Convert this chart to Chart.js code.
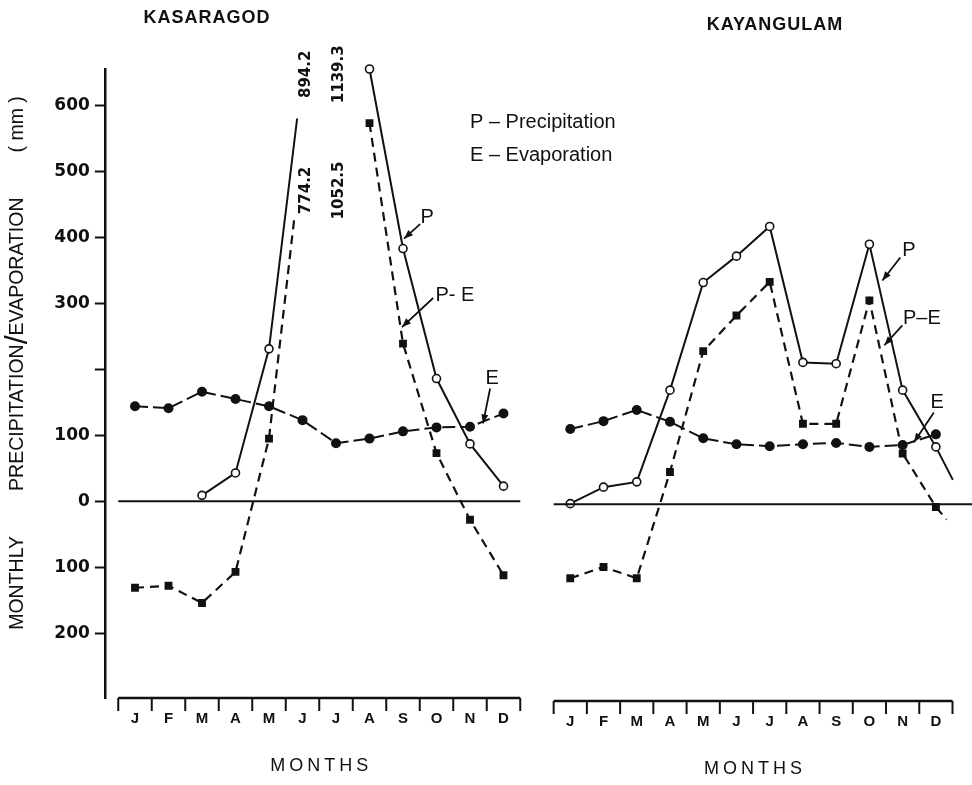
<!DOCTYPE html>
<html>
<head>
<meta charset="utf-8">
<script src="https://cdn.jsdelivr.net/npm/chart.js@4.4.1/dist/chart.umd.min.js"></script>
<style>
  html, body { margin: 0; padding: 0; background: #fff; overflow: hidden; }
  #wrap { position: relative; width: 972px; height: 785px; }
  canvas { position: absolute; }
  #left { left: 0; top: 0; }
  #right { left: 520px; top: 3px; }
</style>
</head>
<body>
<div id="wrap">
  <canvas id="left" width="972" height="785"></canvas>
  <canvas id="right" width="452" height="785"></canvas>
</div>
<script>
const months = ['J', 'F', 'M', 'A', 'M', 'J', 'J', 'A', 'S', 'O', 'N', 'D'];
const yTicks = [600, 500, 400, 300, 200, 100, 0, -100, -200];

// Kasaragod, mm (June/July P and P-E are off the scale)
const kasP  = [null, null, 9, 43, 231, 894.2, 1139.3, 655, 383, 186, 87, 23];
const kasE  = [144, 141, 166, 155, 144, 123, 88, 95, 106, 112, 113, 133];
const kasPE = [-131, -128, -154, -107, 95, 774.2, 1052.5, 573, 239, 73, -28, -112];
// where the drawn lines stop on their way up to June [month, mm]
const kasPCut  = [4.84, 580];
const kasPECut = [4.76, 431];

// Kayangulam, mm
const kayP  = [1, 26, 34, 173, 336, 376, 421, 215, 213, 394, 173, 87];
const kayE  = [114, 126, 143, 125, 100, 91, 88, 91, 93, 87, 90, 106];
const kayPE = [-112, -95, -112, 49, 232, 286, 337, 122, 122, 309, 77, -4];
// the lines run on a little past December [month, mm]
const kayPTail  = [11.51, 37];
const kayPETail = [11.32, -23];

const Y_MIN = -298, Y_MAX = 655;
const ink = '#111';

// off-scale values become gaps, extra end points are added unmarked
function points(vals, extra) {
    const pts = vals.map((v, i) => ({ x: i, y: v !== null && v > Y_MAX ? null : v }));
    if (extra) pts.push({ x: extra[0], y: extra[1], cut: true });
    return pts.sort((a, b) => a.x - b.x);
}

function datasets(p, e, pe) {
    const r = n => c => (c.raw && c.raw.cut ? 0 : n);
    return [
        { label: 'P', data: p, borderColor: ink, borderWidth: 2,
          pointRadius: r(4), pointBackgroundColor: '#fff', pointBorderColor: ink, pointBorderWidth: 1.6 },
        { label: 'E', data: e, borderColor: ink, borderWidth: 2, borderDash: [13, 5],
          pointRadius: r(4), pointBackgroundColor: ink, pointBorderColor: ink },
        { label: 'P-E', data: pe, borderColor: ink, borderWidth: 2.2, borderDash: [9, 6],
          pointStyle: 'rect', pointRadius: r(4), pointBackgroundColor: ink, pointBorderColor: ink }
    ];
}

function line(ctx, x1, y1, x2, y2) {
    ctx.beginPath(); ctx.moveTo(x1, y1); ctx.lineTo(x2, y2); ctx.stroke();
}

function arrow(ctx, x1, y1, x2, y2) {
    ctx.lineWidth = 1.8;
    line(ctx, x1, y1, x2, y2);
    const a = Math.atan2(y2 - y1, x2 - x1);
    ctx.beginPath();
    ctx.moveTo(x2, y2);
    ctx.lineTo(x2 - 9 * Math.cos(a) + 3.5 * Math.sin(a), y2 - 9 * Math.sin(a) - 3.5 * Math.cos(a));
    ctx.lineTo(x2 - 9 * Math.cos(a) - 3.5 * Math.sin(a), y2 - 9 * Math.sin(a) + 3.5 * Math.cos(a));
    ctx.closePath(); ctx.fill();
}

const decor = {
    id: 'decor',
    afterDraw(chart, args, o) {
        const { ctx, chartArea: a, scales: { x, y } } = chart;
        const px = m => x.getPixelForValue(m), py = v => y.getPixelForValue(v);
        ctx.save();
        ctx.strokeStyle = ink; ctx.fillStyle = ink;
        ctx.textAlign = 'center'; ctx.textBaseline = 'middle';

        // zero line
        ctx.lineWidth = 2;
        line(ctx, px(-0.5), py(0), o.zeroToEdge ? chart.width : px(11.5), py(0));

        // month strip
        const sx0 = px(-0.5), sx1 = px(11.5), sy = a.bottom;
        ctx.lineWidth = 2.5; line(ctx, sx0, sy, sx1, sy);
        ctx.lineWidth = 2;
        for (let k = 0; k <= 12; k++) line(ctx, px(k - 0.5), sy, px(k - 0.5), sy + 13);
        ctx.font = 'bold 15px "Liberation Sans"';
        months.forEach((m, i) => ctx.fillText(m, px(i), sy + 21));
        ctx.font = '18px "Liberation Sans"';
        ctx.letterSpacing = '4px';
        ctx.fillText('MONTHS', (sx0 + sx1) / 2 + 2, sy + 68);
        ctx.letterSpacing = '1px';

        // station name
        ctx.font = 'bold 18px "Liberation Sans"';
        ctx.fillText(o.title[0], o.title[1], o.title[2]);
        ctx.letterSpacing = '0px';

        // legend
        if (o.legend) {
            ctx.font = '20px "Liberation Sans"';
            ctx.textAlign = 'left';
            ctx.fillText('P \u2013 Precipitation', 470, 122);
            ctx.fillText('E \u2013 Evaporation', 470, 155);
            ctx.textAlign = 'center';
        }

        // off-scale values written upright
        ctx.font = 'bold 15px "DejaVu Sans"';
        (o.offScale || []).forEach(s => {
            s.vals.forEach((v, i) => {
                if (v === null || v <= Y_MAX) return;
                ctx.save();
                ctx.translate(px(i + 0.1), py(s.level));
                ctx.rotate(-Math.PI / 2);
                ctx.fillText(v.toFixed(1), 0, 0);
                ctx.restore();
            });
        });

        // curve names with arrows
        ctx.font = '20px "Liberation Sans"';
        (o.notes || []).forEach(n => {
            ctx.fillText(n.text, px(n.at[0]), py(n.at[1]));
            arrow(ctx, px(n.from[0]), py(n.from[1]), px(n.to[0]), py(n.to[1]));
        });

        // y axis title
        if (o.yTitle) {
            const parts = [['MONTHLY', 19.5], [45], ['PRECIPITATION', 19.5], ['/', 32], ['EVAPORATION', 19.5], [45], ['( mm )', 19.5]];
            ctx.save();
            ctx.translate(18, 363);
            ctx.rotate(-Math.PI / 2);
            ctx.textAlign = 'left';
            const w = parts.map(p => {
                if (p.length === 1) return p[0];
                ctx.font = p[1] + 'px "Liberation Sans"';
                return ctx.measureText(p[0]).width;
            });
            let cx = -w.reduce((s, v) => s + v, 0) / 2;
            parts.forEach((p, i) => {
                if (p.length > 1) {
                    ctx.font = p[1] + 'px "Liberation Sans"';
                    ctx.fillText(p[0], cx, 0);
                }
                cx += w[i];
            });
            ctx.restore();
        }
        ctx.restore();
    }
};

function makeChart(id, sets, yShown, padding, decorOpts) {
    const yScale = {
        min: Y_MIN, max: Y_MAX, display: yShown,
        afterBuildTicks: s => { s.ticks = yTicks.map(v => ({ value: v })); },
        ticks: {
            color: ink, padding: 5,
            font: { family: 'DejaVu Sans', weight: 'bold', size: 17 },
            callback: v => (v === 200 ? '' : Math.abs(v))
        },
        grid: { drawOnChartArea: false, drawTicks: true, tickLength: 10, tickColor: ink, tickWidth: 2 },
        border: { display: true, color: ink, width: 2.5 }
    };
    if (yShown) yScale.afterFit = s => { s.width = 104.85; };

    return new Chart(document.getElementById(id), {
        type: 'line',
        data: { datasets: sets },
        plugins: [decor],
        options: {
            responsive: false,
            animation: false,
            layout: { padding },
            datasets: { line: { tension: 0, spanGaps: false, clip: false } },
            plugins: { legend: { display: false }, tooltip: { enabled: false }, decor: decorOpts },
            scales: {
                x: { type: 'linear', min: -0.9, max: 11.9, display: false },
                y: yScale
            }
        }
    });
}

makeChart('left',
    datasets(points(kasP, kasPCut), points(kasE), points(kasPE, kasPECut)),
    true,
    { left: 0, right: 972 - 533.65, top: 69, bottom: 87 },
    {
        title: ['KASARAGOD', 207, 18],
        legend: true,
        yTitle: true,
        offScale: [{ vals: kasP, level: 647 }, { vals: kasPE, level: 471 }],
        notes: [
            { text: 'P', at: [8.72, 430], from: [8.51, 420], to: [8.03, 398] },
            { text: 'P- E', at: [9.55, 312], from: [8.90, 308], to: [7.97, 264] },
            { text: 'E', at: [10.66, 186], from: [10.60, 171], to: [10.39, 118] }
        ]
    });

makeChart('right',
    datasets(points(kayP, kayPTail), points(kayE), points(kayPE, kayPETail)),
    false,
    { left: 20.35, right: 2.85, top: 69, bottom: 87 },
    {
        title: ['KAYANGULAM', 255, 22],
        zeroToEdge: true,
        notes: [
            { text: 'P', at: [10.19, 385], from: [9.93, 374], to: [9.39, 339] },
            { text: 'P\u2013E', at: [10.58, 282], from: [9.99, 271], to: [9.45, 241] },
            { text: 'E', at: [11.04, 155], from: [10.94, 139], to: [10.34, 94] }
        ]
    });
</script>
</body>
</html>
